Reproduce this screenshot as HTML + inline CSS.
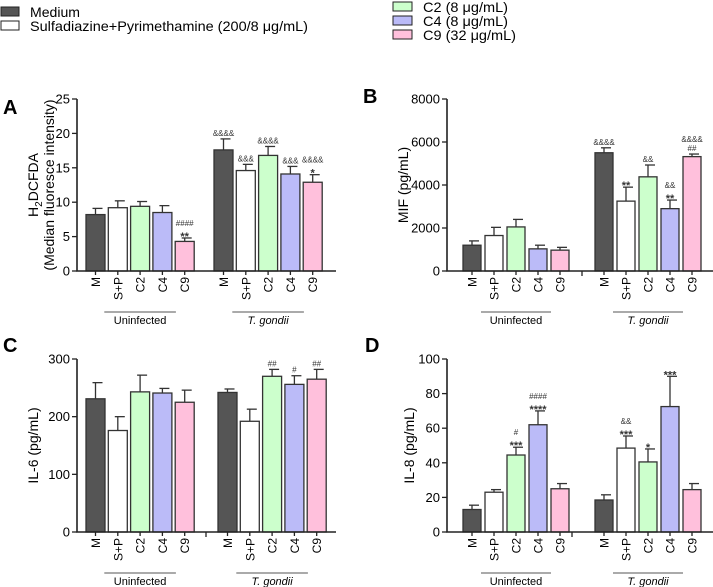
<!DOCTYPE html>
<html><head><meta charset="utf-8">
<style>
html,body{margin:0;padding:0;background:#fff;}
svg{display:block;font-family:"Liberation Sans",Arial,sans-serif;}
</style></head>
<body>
<svg id="fig" width="713" height="587" viewBox="0 0 713 587" xmlns="http://www.w3.org/2000/svg">
  <g>
    <rect x="1" y="7" width="18" height="9" fill="#555" stroke="#222" stroke-width="1"/>
    <text x="30" y="17" font-size="14" textLength="50" lengthAdjust="spacingAndGlyphs">Medium</text>
    <rect x="1" y="21" width="18" height="9" fill="#fff" stroke="#222" stroke-width="1"/>
    <text x="30" y="31" font-size="14" textLength="278" lengthAdjust="spacingAndGlyphs">Sulfadiazine+Pyrimethamine (200/8 μg/mL)</text>
    <rect x="393" y="2" width="19" height="9" fill="#ccffcc" stroke="#222" stroke-width="1"/>
    <text x="423" y="12" font-size="14" textLength="85" lengthAdjust="spacingAndGlyphs">C2 (8 μg/mL)</text>
    <rect x="393" y="16" width="19" height="9" fill="#bbbbf8" stroke="#222" stroke-width="1"/>
    <text x="423" y="26" font-size="14" textLength="85" lengthAdjust="spacingAndGlyphs">C4 (8 μg/mL)</text>
    <rect x="393" y="30" width="19" height="9" fill="#ffc0dc" stroke="#222" stroke-width="1"/>
    <text x="423" y="40" font-size="14" textLength="93" lengthAdjust="spacingAndGlyphs">C9 (32 μg/mL)</text>
  </g>
</svg>
<script>
const categories = ["M","S+P","C2","C4","C9"];
const groups = ["Uninfected","T. gondii"];
const colors = ["#555555","#ffffff","#ccffcc","#bbbbf8","#ffc0dc"];

const valuesA = [8.2,9.2,9.4,8.5,4.3, 17.6,14.6,16.8,14.1,12.9];
const errorsA = [0.9,1.0,0.7,1.0,0.5, 1.6,0.9,1.3,1.1,1.1];
const marksA  = ["","","","","####\n**", "&&&&","&&&","&&&&","&&&","&&&&\n*"];
const ticksA  = [0,5,10,15,20,25];

const valuesB = [1200,1650,2050,1030,970, 5500,3250,4380,2900,5320];
const errorsB = [200,380,350,170,130, 230,650,550,400,120];
const marksB  = ["","","","","", "&&&&","**","&&","&&\n**","&&&&\n##"];
const ticksB  = [0,2000,4000,6000,8000];

const valuesC = [231,176,243,241,225, 242,192,270,256,265];
const errorsC = [28,24,29,8,21, 6,21,12,15,17];
const marksC  = ["","","","","", "","","##","#","##"];
const ticksC  = [0,100,200,300];

const valuesD = [13,23,44.5,62,25, 18.5,48.5,40.5,72.5,24.5];
const errorsD = [2.5,1.5,4.5,8,3, 3,7,7.5,17.5,3.5];
const marksD  = ["","","#\n***","####\n****","", "","&&\n***","*","***",""];
const ticksD  = [0,20,40,60,80,100];

const NS = "http://www.w3.org/2000/svg";
const svg = document.getElementById('fig');
function mk(tag, attrs, parent){
  const e = document.createElementNS(NS, tag);
  for (const k in attrs) e.setAttribute(k, attrs[k]);
  parent.appendChild(e); return e;
}

function panel(cfg){
  const g = mk('g', {}, svg);
  
  
  const yMax = cfg.ticks[cfg.ticks.length-1];
  const yScale = v => cfg.y0 - (v / yMax) * (cfg.y0 - cfg.yTop);
  const xScale = i => cfg.x1 + (i < 5 ? i : i - 5) * cfg.pitch + (i < 5 ? 0 : cfg.g2 - cfg.x1);
  const L = mk('text', {x: cfg.lx, y: cfg.ly, 'font-size': 20, 'font-weight': 'bold'}, g);
  L.textContent = cfg.letter;
  
  
  const yt = mk('g', {transform: `translate(${cfg.tx},${(cfg.y0+cfg.yTop)/2}) rotate(-90)`}, g);
  
  
  cfg.title.forEach((t, k) => {
    const tt = mk('text', {x: 0, y: k*16, 'font-size': 14, 'text-anchor': 'middle'}, yt);
    tt.innerHTML = t;
  });
  cfg.values.forEach((v, i) => {
    const x = xScale(i), w = cfg.bw;
    const cx = x + w/2;
    const top = yScale(v), etop = yScale(v + cfg.errors[i]);
    const ln = mk('line', {x1: cx, x2: cx, y1: top, y2: etop, stroke: '#333', 'stroke-width': 1.3}, g);
    
    
    const cap = mk('line', {x1: cx - 3, x2: cx + 7, y1: etop, y2: etop, stroke: '#333', 'stroke-width': 1.3}, g);
    
    
    const r = mk('rect', {x: x, y: top, width: w, height: cfg.y0 - top, fill: colors[i % 5], stroke: '#333', 'stroke-width': 1.3}, g);
    
    
    const m = cfg.marks[i];
    if (m) {
      const lines = m.split('\n');
      lines.forEach((s, k) => {
        const isStar = s[0] === '*';
        const t = mk('text', {x: cx, y: etop - 3 - (lines.length - 1 - k) * 9 + (isStar ? 5 : 0), 'font-size': isStar ? 11 : 8, 'font-weight': isStar ? 'bold' : 'normal', 'text-anchor': 'middle', fill: '#333'}, g);
        t.textContent = s;
        
        
      });
    }
    mk('line', {x1: cx, x2: cx, y1: cfg.y0, y2: cfg.y0 + 4, stroke: '#222', 'stroke-width': 1.3}, g);
    const lt = mk('text', {transform: `translate(${cx + 4.5},${cfg.y0 + 6}) rotate(-90)`, 'font-size': 12, 'text-anchor': 'end'}, g);
    lt.textContent = categories[i % 5];
    
    
  });
  const ax = mk('path', {d: `M${cfg.ax} ${cfg.yTop} V${cfg.y0} H${cfg.axEnd}`, fill: 'none', stroke: '#222', 'stroke-width': 1.6}, g);
  
  
  if (cfg.sep) mk('line', {x1: cfg.sep, x2: cfg.sep, y1: cfg.y0, y2: cfg.y0 + 5, stroke: '#222', 'stroke-width': 1.3}, g);
  cfg.ticks.forEach(t => {
    const y = yScale(t);
    mk('line', {x1: cfg.ax - 5, x2: cfg.ax, y1: y, y2: y, stroke: '#222', 'stroke-width': 1.3}, g);
    const tl = mk('text', {x: cfg.ax - 7, y: y + 4.5, 'font-size': 13, 'text-anchor': 'end'}, g);
    tl.textContent = t;
    
    
  });
  groups.forEach((gn, k) => {
    const a = xScale(k*5 + 1) - 4, b = xScale(k*5 + 3) + cfg.bw + 4;
    mk('line', {x1: a, x2: b, y1: cfg.y0 + 41, y2: cfg.y0 + 41, stroke: '#555', 'stroke-width': 1}, g);
    const gt = mk('text', {x: (a + b) / 2, y: cfg.y0 + 53, 'font-size': 11, 'text-anchor': 'middle', 'font-style': k ? 'italic' : 'normal'}, g);
    gt.textContent = gn;
    
    
  });
}

panel({name:'panel-a-h2dcfda', letter:'A', lx:3, ly:114, values:valuesA, errors:errorsA, marks:marksA, ticks:ticksA,
  y0:271, yTop:99, ax:77, axEnd:336, x1:86, g2:214, pitch:22.3, bw:19, sep:0, tx:38,
  title:['H<tspan font-size="10" dy="4">2</tspan><tspan dy="-4">DCFDA</tspan>','(Median fluoresce intensity)']});
panel({name:'panel-b-mif', letter:'B', lx:363, ly:103, values:valuesB, errors:errorsB, marks:marksB, ticks:ticksB,
  y0:271, yTop:99, ax:447, axEnd:713, x1:463, g2:595, pitch:22, bw:18, sep:582, tx:408,
  title:['MIF (pg/mL)']});
panel({name:'panel-c-il6', letter:'C', lx:3, ly:352, values:valuesC, errors:errorsC, marks:marksC, ticks:ticksC,
  y0:532, yTop:359, ax:77, axEnd:336, x1:86, g2:218, pitch:22.3, bw:19, sep:206, tx:38,
  title:['IL-6 (pg/mL)']});
panel({name:'panel-d-il8', letter:'D', lx:365, ly:352, values:valuesD, errors:errorsD, marks:marksD, ticks:ticksD,
  y0:532, yTop:359, ax:447, axEnd:713, x1:463, g2:595, pitch:22, bw:18, sep:572, tx:414,
  title:['IL-8 (pg/mL)']});
</script>
</body></html>
